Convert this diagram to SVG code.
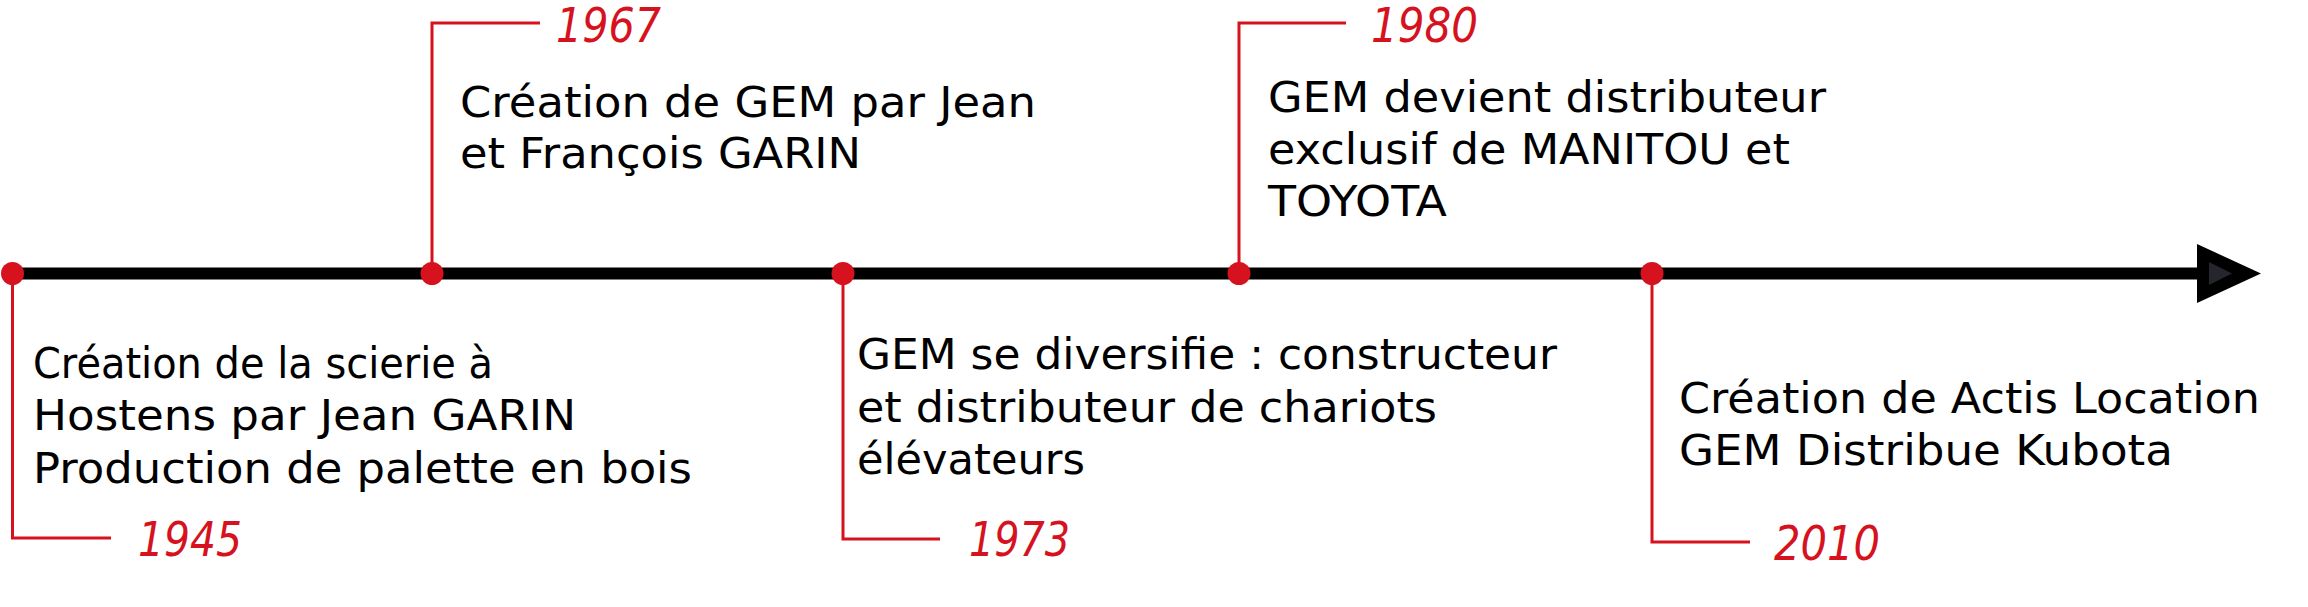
<svg xmlns="http://www.w3.org/2000/svg" width="2308" height="607" viewBox="0 0 2308 607">
<style>
.t{font-family:"DejaVu Sans","Liberation Sans",sans-serif;font-size:43px;fill:#000}
.y{font-family:"DejaVu Sans","Liberation Sans",sans-serif;font-size:48px;font-style:italic;fill:#d5121e}
.lead{fill:none;stroke:#d5121e;stroke-width:3}
.dot{fill:#d5121e}
</style>
<rect width="2308" height="607" fill="#fff"/>
<g id="connectors">
<line x1="12" y1="273.5" x2="2205" y2="273.5" stroke="#000" stroke-width="12"/>
<polygon points="2197,244 2261,273.5 2197,303" fill="#000"/>
<polygon points="2209,262 2232,273.5 2209,285" fill="#25252e"/>
<polyline class="lead" points="12.5,273.5 12.5,538 111,538"/>
<polyline class="lead" points="432,273.5 432,23 540,23"/>
<polyline class="lead" points="843,273.5 843,539 940,539"/>
<polyline class="lead" points="1239,273.5 1239,23 1346,23"/>
<polyline class="lead" points="1652,273.5 1652,542 1750,542"/>
</g>
<g id="e1945">
<circle class="dot" cx="12.5" cy="273.5" r="11.5"/>
<text class="t" x="33" y="378" textLength="460" lengthAdjust="spacingAndGlyphs">Création de la scierie à</text>
<text class="t" x="33" y="430" textLength="543" lengthAdjust="spacingAndGlyphs">Hostens par Jean GARIN</text>
<text class="t" x="33" y="483" textLength="659" lengthAdjust="spacingAndGlyphs">Production de palette en bois</text>
<text class="y" x="138" y="556" textLength="104" lengthAdjust="spacingAndGlyphs">1945</text>
</g>
<g id="e1967">
<circle class="dot" cx="432" cy="273.5" r="11.5"/>
<text class="t" x="460" y="117" textLength="576" lengthAdjust="spacingAndGlyphs">Création de GEM par Jean</text>
<text class="t" x="460" y="168" textLength="401" lengthAdjust="spacingAndGlyphs">et François GARIN</text>
<text class="y" x="556" y="42" textLength="105" lengthAdjust="spacingAndGlyphs">1967</text>
</g>
<g id="e1973">
<circle class="dot" cx="843" cy="273.5" r="11.5"/>
<text class="t" x="857" y="369" textLength="700" lengthAdjust="spacingAndGlyphs">GEM se diversifie : constructeur</text>
<text class="t" x="857" y="422" textLength="580" lengthAdjust="spacingAndGlyphs">et distributeur de chariots</text>
<text class="t" x="857" y="474" textLength="228" lengthAdjust="spacingAndGlyphs">élévateurs</text>
<text class="y" x="969" y="556" textLength="101" lengthAdjust="spacingAndGlyphs">1973</text>
</g>
<g id="e1980">
<circle class="dot" cx="1239" cy="273.5" r="11.5"/>
<text class="t" x="1268" y="112" textLength="558" lengthAdjust="spacingAndGlyphs">GEM devient distributeur</text>
<text class="t" x="1268" y="164" textLength="522" lengthAdjust="spacingAndGlyphs">exclusif de MANITOU et</text>
<text class="t" x="1268" y="216" textLength="179" lengthAdjust="spacingAndGlyphs">TOYOTA</text>
<text class="y" x="1371" y="42" textLength="107" lengthAdjust="spacingAndGlyphs">1980</text>
</g>
<g id="e2010">
<circle class="dot" cx="1652" cy="273.5" r="11.5"/>
<text class="t" x="1679" y="413" textLength="581" lengthAdjust="spacingAndGlyphs">Création de Actis Location</text>
<text class="t" x="1679" y="465" textLength="494" lengthAdjust="spacingAndGlyphs">GEM Distribue Kubota</text>
<text class="y" x="1774" y="560" textLength="106" lengthAdjust="spacingAndGlyphs">2010</text>
</g>
</svg>
